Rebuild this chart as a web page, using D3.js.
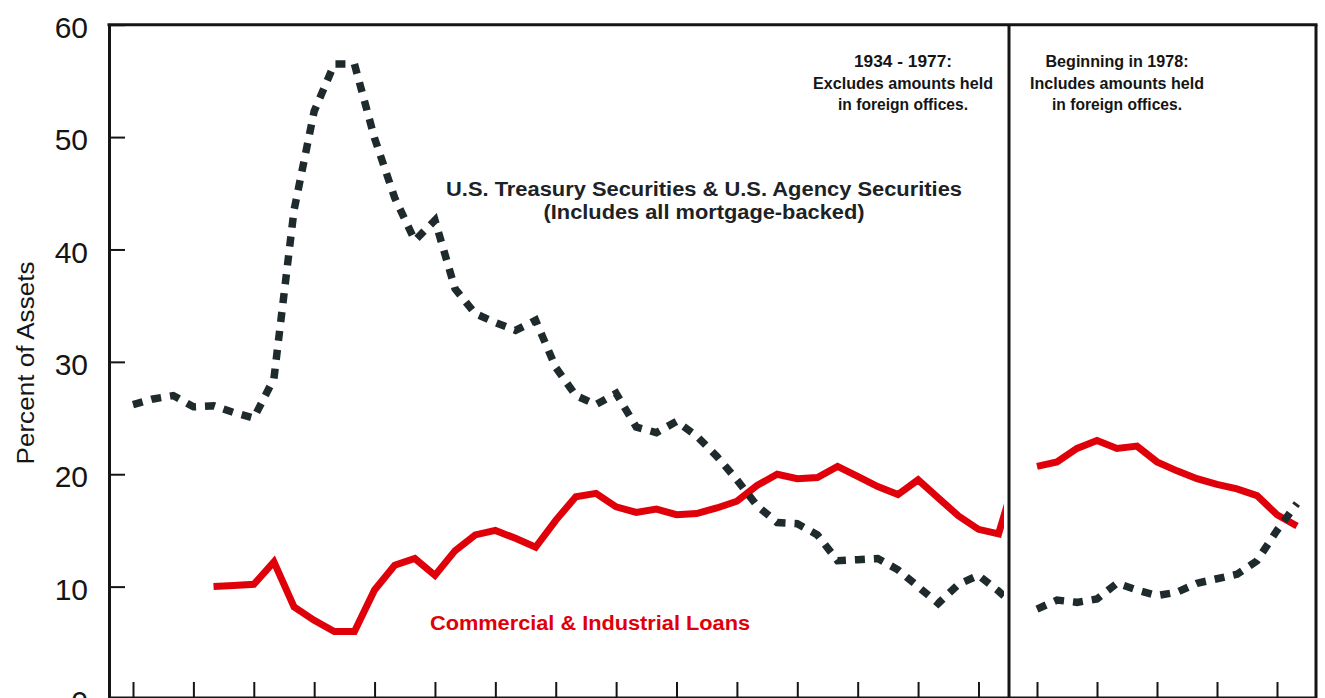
<!DOCTYPE html>
<html><head><meta charset="utf-8">
<script src="https://cdn.jsdelivr.net/npm/d3@7/dist/d3.min.js"></script>
<style>body{margin:0;background:#fff;} svg{display:block;}</style>
</head><body>
<svg id="chart" width="1325" height="698"></svg>
<script>
// ---- data ----
const leftYears = d3.range(1934, 1978);   // 1934-1977: excludes foreign offices
const rightYears = d3.range(1978, 1992);  // 1978-1991: includes foreign offices
const treasuryLeft = [26.2,26.7,27.0,26.0,26.1,25.5,25.0,28.5,43.5,52.3,
  56.5,56.5,49.9,44.6,40.8,42.6,36.5,34.3,33.5,32.8,
  33.7,29.5,27.0,26.2,27.2,24.2,23.7,24.7,23.4,21.6,
  19.5,17.2,15.7,15.6,14.6,12.3,12.4,12.5,11.5,10.0,
  8.5,10.2,11.0,9.6];
const loansLeft = [null,null,null,null,10.0,10.1,10.2,12.2,8.2,7.0,
  6.0,6.0,9.7,11.9,12.5,11.0,13.2,14.6,15.0,14.3,
  13.5,15.9,18.0,18.3,17.1,16.6,16.9,16.4,16.5,17.0,
  17.6,19.0,20.0,19.6,19.7,20.7,19.8,18.9,18.2,19.5,
  17.9,16.3,15.1,14.7];
const treasuryRight = [8.0,8.8,8.6,8.9,10.3,9.7,9.2,9.5,10.3,10.7,11.1,12.3,15.0,17.4];
const loansRight = [20.7,21.1,22.3,23.0,22.3,22.5,21.1,20.3,19.6,19.1,18.7,18.1,16.4,15.4];
const yTicks = [0,10,20,30,40,50,60];
const xTicksLeft = [1934,1937,1940,1943,1946,1949,1952,1955,1958,1961,1964,1967,1970,1973,1976];
const xTicksRight = [1978,1981,1984,1987,1990];
const treasuryLabel = ["U.S. Treasury Securities & U.S. Agency Securities", "(Includes all mortgage-backed)"];
const loansLabel = "Commercial & Industrial Loans";
const noteLeft = ["1934 - 1977:", "Excludes amounts held", "in foreign offices."];
const noteRight = ["Beginning in 1978:", "Includes amounts held", "in foreign offices."];
const yTitle = "Percent of Assets";

// ---- layout ----
const FONT = "'Liberation Sans', Arial, Helvetica, sans-serif";
const RED = "#e0000a", DARK = "#1f2a2c", INK = "#151515";
const svg = d3.select("#chart");
const y = d3.scaleLinear().domain([0, 60]).range([699, 24.7]);
const xLeft = d3.scaleLinear().domain([1934, 1977]).range([133, 998.6]);
const xRight = d3.scaleLinear().domain([1978, 1991]).range([1037, 1297]);
const PL = 109, PT = 24.7, PR = 1316, PB = 697, DIV = 1009;

const defs = svg.append("defs");
defs.append("clipPath").attr("id", "clipL").append("rect")
  .attr("x", PL + 1).attr("y", 0).attr("width", 1004 - PL - 1).attr("height", 698);
defs.append("clipPath").attr("id", "clipR").append("rect")
  .attr("x", DIV + 2).attr("y", 0).attr("width", PR - DIV - 3).attr("height", 698);

// left panel lines (continue toward 1978 value, clipped before divider)
const lYears = leftYears.concat([1978]);
const lTreas = treasuryLeft.concat([treasuryRight[0]]);
const lLoans = loansLeft.concat([loansRight[0]]);
const lineL = d3.line().defined(d => d[1] != null).x(d => xLeft(d[0])).y(d => y(d[1]));
const lineR = d3.line().defined(d => d[1] != null).x(d => xRight(d[0])).y(d => y(d[1]));

const gL = svg.append("g").attr("clip-path", "url(#clipL)");
gL.append("path").datum(lYears.map((yr, i) => [yr, lLoans[i]]))
  .attr("d", lineL).attr("fill", "none").attr("stroke", RED).attr("stroke-width", 7).attr("stroke-linejoin", "miter");
gL.append("path").datum(lYears.map((yr, i) => [yr, lTreas[i]]))
  .attr("d", lineL).attr("fill", "none").attr("stroke", DARK).attr("stroke-width", 7.5)
  .attr("stroke-dasharray", "10,9");

const gR = svg.append("g").attr("clip-path", "url(#clipR)");
gR.append("path").datum(rightYears.map((yr, i) => [yr, loansRight[i]]))
  .attr("d", lineR).attr("fill", "none").attr("stroke", RED).attr("stroke-width", 7);
gR.append("path").datum(rightYears.map((yr, i) => [yr, treasuryRight[i]]))
  .attr("d", lineR).attr("fill", "none").attr("stroke", DARK).attr("stroke-width", 7.5)
  .attr("stroke-dasharray", "10,9");

// y axis
const yAxis = svg.append("g").attr("transform", `translate(${PL},0)`)
  .call(d3.axisLeft(y).tickValues(yTicks).tickSize(-16).tickSizeOuter(0).tickPadding(21));
yAxis.select(".domain").attr("stroke", INK).attr("stroke-width", 3);
yAxis.selectAll(".tick line").attr("stroke", INK).attr("stroke-width", 2);
yAxis.selectAll(".tick text").attr("font-family", FONT).attr("font-size", 30)
  .attr("fill", INK).attr("dy", "0.42em");

// x axis ticks (no labels visible)
const xaL = svg.append("g").attr("transform", `translate(0,${PB})`)
  .call(d3.axisBottom(xLeft).tickValues(xTicksLeft).tickSize(-15).tickFormat(""));
const xaR = svg.append("g").attr("transform", `translate(0,${PB})`)
  .call(d3.axisBottom(xRight).tickValues(xTicksRight).tickSize(-15).tickFormat(""));
[xaL, xaR].forEach(g => {
  g.select(".domain").remove();
  g.selectAll(".tick line").attr("stroke", INK).attr("stroke-width", 2);
});

// frame
const frame = svg.append("g").attr("stroke", INK).attr("stroke-width", 3);
frame.append("line").attr("x1", PL - 1.5).attr("x2", PR + 1.5).attr("y1", PT).attr("y2", PT);
frame.append("line").attr("x1", PR).attr("x2", PR).attr("y1", PT).attr("y2", 698);
frame.append("line").attr("x1", DIV).attr("x2", DIV).attr("y1", PT).attr("y2", 698);
frame.append("line").attr("x1", PL).attr("x2", PR).attr("y1", PB + 1).attr("y2", PB + 1);

// y title
svg.append("text").attr("transform", "translate(34,363) rotate(-90)")
  .attr("text-anchor", "middle").attr("font-family", FONT).attr("font-size", 23)
  .attr("fill", INK).attr("textLength", 203).attr("lengthAdjust", "spacingAndGlyphs").text(yTitle);

// series labels
const tl = svg.append("g").attr("font-family", FONT).attr("font-weight", "bold")
  .attr("font-size", 20).attr("fill", "#1c2226").attr("text-anchor", "middle");
tl.append("text").attr("x", 704).attr("y", 196).attr("textLength", 516)
  .attr("lengthAdjust", "spacingAndGlyphs").text(treasuryLabel[0]);
tl.append("text").attr("x", 704).attr("y", 219).attr("textLength", 321)
  .attr("lengthAdjust", "spacingAndGlyphs").text(treasuryLabel[1]);
svg.append("text").attr("x", 590).attr("y", 630).attr("text-anchor", "middle")
  .attr("font-family", FONT).attr("font-weight", "bold").attr("font-size", 20)
  .attr("fill", RED).attr("textLength", 320).attr("lengthAdjust", "spacingAndGlyphs").text(loansLabel);

// notes
const noteW = {left: [98, 180, 130], right: [143, 174, 130]};
const noteY = [67, 88.5, 110];
function notes(lines, cx, widths) {
  const g = svg.append("g").attr("font-family", FONT).attr("font-weight", "bold")
    .attr("font-size", 16).attr("fill", INK).attr("text-anchor", "middle");
  lines.forEach((t, i) => g.append("text").attr("x", cx).attr("y", noteY[i])
    .attr("textLength", widths[i]).attr("lengthAdjust", "spacingAndGlyphs").text(t));
}
notes(noteLeft, 903, noteW.left);
notes(noteRight, 1117, noteW.right);
</script>
</body></html>
